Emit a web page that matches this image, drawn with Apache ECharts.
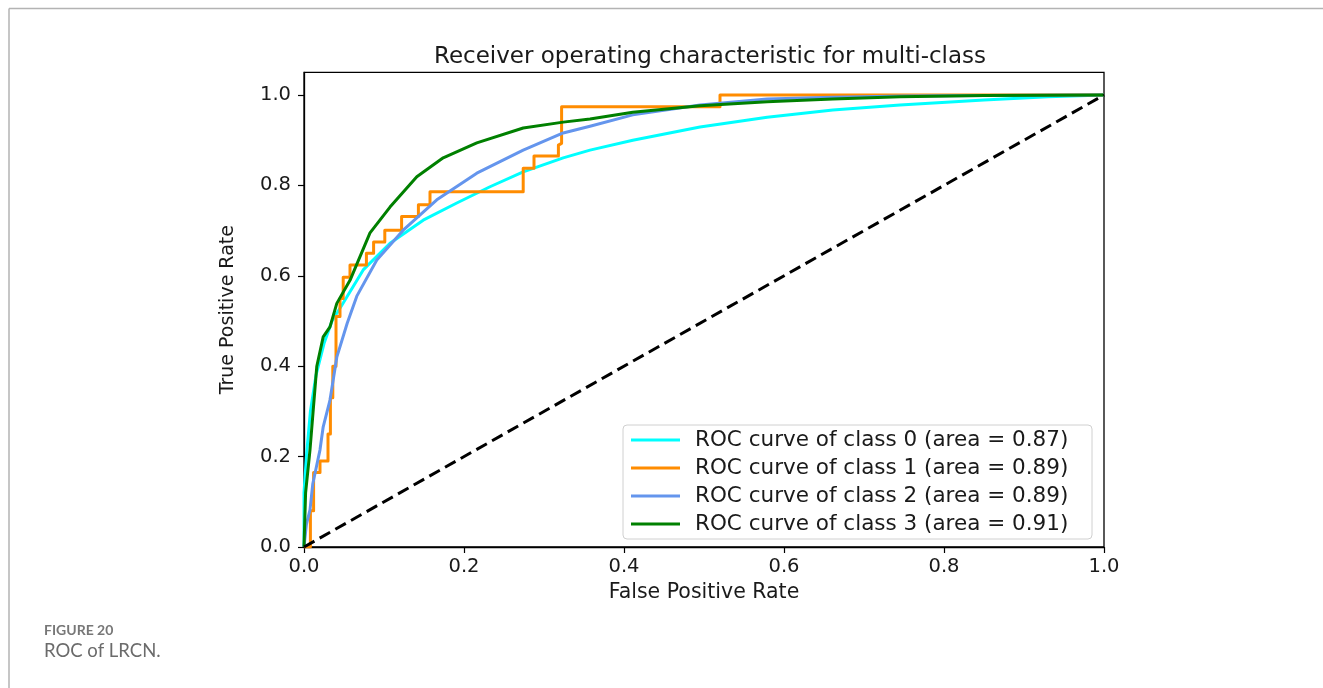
<!DOCTYPE html>
<html>
<head>
<meta charset="utf-8">
<script src="https://cdn.jsdelivr.net/npm/echarts@6/dist/echarts.min.js"></script>
<style>
html,body{margin:0;padding:0;background:#fff;}
#chart{width:1323px;height:688px;}
</style>
</head>
<body>
<div id="chart"></div>
<script>
// ---- Data ----
const titleText = 'Receiver operating characteristic for multi-class';
const xAxisName = 'False Positive Rate';
const yAxisName = 'True Positive Rate';
const tickValues = [0, 0.2, 0.4, 0.6, 0.8, 1.0];
const seriesNames = [
  'ROC curve of class 0 (area = 0.87)',
  'ROC curve of class 1 (area = 0.89)',
  'ROC curve of class 2 (area = 0.89)',
  'ROC curve of class 3 (area = 0.91)'
];
const seriesColors = ['#00ffff', '#ff8c00', '#6495ed', '#008000'];

const class0Fpr = [0, 0, 0.003, 0.008, 0.015, 0.025, 0.035, 0.049, 0.074, 0.1075, 0.149, 0.191, 0.2325, 0.274, 0.324, 0.3575, 0.411, 0.495, 0.579, 0.661, 0.745, 0.85, 0.93, 1.0];
const class0Tpr = [0, 0.12, 0.2, 0.3, 0.38, 0.45, 0.5, 0.54, 0.613, 0.672, 0.723, 0.761, 0.797, 0.830, 0.861, 0.878, 0.900, 0.929, 0.951, 0.967, 0.978, 0.989, 0.996, 1.0];

const class1Fpr = [0, 0.008, 0.008, 0.012, 0.012, 0.02, 0.02, 0.03, 0.03, 0.033, 0.033, 0.036, 0.036, 0.04, 0.04, 0.045, 0.045, 0.049, 0.049, 0.0575, 0.0575, 0.078, 0.078, 0.087, 0.087, 0.101, 0.101, 0.122, 0.122, 0.143, 0.143, 0.1575, 0.1575, 0.274, 0.274, 0.2875, 0.2875, 0.318, 0.318, 0.322, 0.322, 0.52, 0.52, 1.0];
const class1Tpr = [0, 0, 0.08, 0.08, 0.165, 0.165, 0.19, 0.19, 0.25, 0.25, 0.33, 0.33, 0.4, 0.4, 0.51, 0.51, 0.55, 0.55, 0.597, 0.597, 0.624, 0.624, 0.65, 0.65, 0.675, 0.675, 0.701, 0.701, 0.731, 0.731, 0.757, 0.757, 0.786, 0.786, 0.838, 0.838, 0.865, 0.865, 0.889, 0.893, 0.974, 0.974, 1.0, 1.0];

const class2Fpr = [0, 0.003, 0.0075, 0.011, 0.02, 0.024, 0.0325, 0.041, 0.054, 0.066, 0.091, 0.124, 0.166, 0.216, 0.274, 0.324, 0.3575, 0.411, 0.495, 0.579, 0.661, 0.75, 0.85, 1.0];
const class2Tpr = [0, 0.05, 0.082, 0.14, 0.215, 0.266, 0.325, 0.42, 0.495, 0.555, 0.635, 0.701, 0.768, 0.827, 0.878, 0.916, 0.931, 0.956, 0.978, 0.991, 0.995, 0.998, 0.999, 1.0];

const class3Fpr = [0, 0.002, 0.0075, 0.016, 0.024, 0.0325, 0.041, 0.0575, 0.0825, 0.1075, 0.141, 0.174, 0.216, 0.274, 0.324, 0.3575, 0.411, 0.495, 0.579, 0.661, 0.745, 0.85, 1.0];
const class3Tpr = [0, 0.12, 0.215, 0.40, 0.465, 0.487, 0.539, 0.59, 0.695, 0.752, 0.819, 0.861, 0.894, 0.927, 0.940, 0.947, 0.962, 0.976, 0.985, 0.991, 0.996, 0.999, 1.0];

const diagFpr = [0, 1];
const diagTpr = [0, 1];

const captionLabel = 'FIGURE 20';
const captionText = 'ROC of LRCN.';

// ---- Build ----
function zip(xs, ys) { return xs.map((x, i) => [x, ys[i]]); }
const curves = [
  zip(class0Fpr, class0Tpr),
  zip(class1Fpr, class1Tpr),
  zip(class2Fpr, class2Tpr),
  zip(class3Fpr, class3Tpr)
];

const FONT = 'DejaVu Sans';
const chart = echarts.init(document.getElementById('chart'), null, { renderer: 'canvas' });

const series = curves.map((d, i) => ({
  name: seriesNames[i],
  type: 'line',
  data: d,
  showSymbol: false,
  symbol: 'none',
  smooth: false,
  lineStyle: { color: seriesColors[i], width: 3, join: 'round' },
  itemStyle: { color: seriesColors[i] },
  z: 2 + i,
  animation: false
}));
series.push({
  name: 'diag',
  type: 'line',
  data: zip(diagFpr, diagTpr),
  symbol: 'none',
  lineStyle: { color: '#000', width: 3, type: [12, 6] },
  z: 10,
  animation: false
});

const option = {
  animation: false,
  backgroundColor: '#fff',
  title: {
    text: titleText,
    left: 705,
    top: 41,
    textAlign: 'center',
    textStyle: { fontFamily: FONT, fontSize: 23, fontWeight: 'normal', color: '#1a1a1a' }
  },
  grid: {
    left: 304, top: 72.4, width: 800, height: 474.6,
    show: true, borderColor: '#000', borderWidth: 1.3, backgroundColor: 'transparent'
  },
  xAxis: {
    type: 'value', min: 0, max: 1, interval: 0.2,
    name: xAxisName, nameLocation: 'middle', nameGap: 35,
    nameTextStyle: { fontFamily: FONT, fontSize: 20.5, color: '#1a1a1a' },
    axisLine: { show: true, onZero: false, lineStyle: { color: '#000', width: 1.3 } },
    axisTick: { show: true, length: 6, inside: false, lineStyle: { color: '#000', width: 1.2 } },
    axisLabel: { fontFamily: FONT, fontSize: 19.5, color: '#1a1a1a', margin: 10,
      formatter: v => v.toFixed(1) },
    splitLine: { show: false }
  },
  yAxis: {
    type: 'value', min: 0, max: 1.05, interval: 0.2,
    name: yAxisName, nameLocation: 'middle', nameGap: 66, nameRotate: 90,
    nameTextStyle: { fontFamily: FONT, fontSize: 19, color: '#1a1a1a' },
    axisLine: { show: true, onZero: false, lineStyle: { color: '#000', width: 1.3 } },
    axisTick: { show: true, length: 6, inside: false, customValues: tickValues, lineStyle: { color: '#000', width: 1.2 } },
    axisLabel: { fontFamily: FONT, fontSize: 19.5, color: '#1a1a1a', margin: 13,
      customValues: tickValues, formatter: v => v.toFixed(1) },
    splitLine: { show: false }
  },
  legend: {
    data: seriesNames,
    orient: 'vertical',
    left: 623, top: 425,
    icon: 'rect',
    itemWidth: 49, itemHeight: 3,
    itemGap: 6,
    padding: [4, 12, 4, 8],
    backgroundColor: '#fff',
    borderColor: '#d0d0d0', borderWidth: 1, borderRadius: 4,
    textStyle: { fontFamily: FONT, fontSize: 21.5, color: '#1a1a1a', lineHeight: 21,
      padding: [0, 0, 0, 10], width: 385 },
    selectedMode: false,
    z: 20
  },
  graphic: [
    { type: 'line', shape: { x1: 9, y1: 8.5, x2: 1323, y2: 8.5 }, style: { stroke: '#b3b3b3', lineWidth: 1.5 }, silent: true },
    { type: 'line', shape: { x1: 9, y1: 8.5, x2: 9, y2: 688 }, style: { stroke: '#b3b3b3', lineWidth: 1.5 }, silent: true },
    { type: 'text', left: 44, top: 623, style: { text: captionLabel, fontFamily: 'Lato', fontSize: 14, fontWeight: 'bold', fill: '#777' } },
    { type: 'text', left: 44, top: 642, style: { text: captionText, fontFamily: 'Lato', fontSize: 18.5, fill: '#6b6b6b' } }
  ],
  series: series
};
chart.setOption(option);
</script>
</body>
</html>
